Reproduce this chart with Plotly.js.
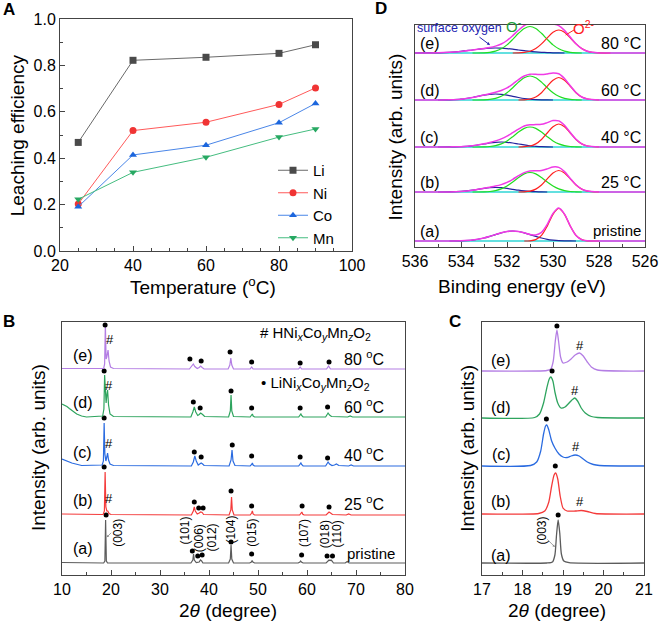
<!DOCTYPE html>
<html><head><meta charset="utf-8">
<script src="https://cdn.plot.ly/plotly-3.0.1.min.js"></script>
<style>html,body{margin:0;padding:0;background:#fff}#chart{width:661px;height:622px}</style>
</head><body><div id="chart"></div>
<script>
// ---------- Panel A: leaching efficiency ----------
const temperatures = [25, 40, 60, 80, 90];
const leachLi = [0.468, 0.822, 0.835, 0.852, 0.889];
const leachNi = [0.203, 0.519, 0.555, 0.632, 0.703];
const leachCo = [0.191, 0.414, 0.456, 0.553, 0.636];
const leachMn = [0.223, 0.339, 0.404, 0.491, 0.526];

// ---------- Panel B: XRD patterns (height above each pattern's baseline) ----------
const xrdLabels = ['(a)', '(b)', '(c)', '(d)', '(e)'];
const xrdTemps = ['pristine', '25 <sup>o</sup>C', '40 <sup>o</sup>C', '60 <sup>o</sup>C', '80 <sup>o</sup>C'];
const xrdOffsets = [12, 60, 109, 158, 206];
const xrdPristineX = [10, 18.5, 18.75, 18.9, 19.05, 19.3, 36.3, 36.7, 36.85, 37.0, 37.4, 38.0, 38.25, 38.5, 38.75, 44.0, 44.35, 44.5, 44.65, 45.0, 48.3, 48.65, 48.8, 48.95, 49.3, 58.2, 58.55, 58.7, 58.85, 59.2, 63.9, 64.3, 64.5, 64.7, 64.9, 65.1, 65.4, 67.8, 68.2, 68.6, 80];
const xrdPristineY = [0.5, 0, 2, 43, 2, 0, 0, 3, 9, 3, 0.5, 1, 3, 2, 0, 0, 4, 18, 4, 0, 0, 1, 2.5, 1, 0, 0, 1, 2, 1, 0, 0, 2, 3, 2.5, 3, 2, 0, 0, 1.5, 0, 0];
const xrd25X = [10, 18.4, 18.65, 18.8, 18.95, 19.15, 19.35, 19.6, 20.0, 36.4, 36.8, 37.0, 37.2, 37.6, 38.0, 38.3, 38.6, 38.9, 44.1, 44.45, 44.6, 44.75, 45.1, 48.4, 48.7, 48.85, 49.0, 49.3, 58.5, 58.8, 58.95, 59.1, 59.4, 63.9, 64.3, 64.5, 64.8, 65.2, 68.0, 68.5, 69.0, 80];
const xrd25Y = [1, 0.5, 4, 43, 8, 4, 4, 1.5, 0.5, 0, 4, 8, 4, 1, 2, 3, 2.5, 0.5, 0, 5, 18, 5, 0, 0, 2, 4, 1, 0, 0, 1.5, 3, 1, 0, 0, 2, 3, 2, 0.5, 0, 1, 0, 0];
const xrd40X = [10, 11, 12, 14, 18.2, 18.45, 18.6, 18.75, 18.95, 19.15, 19.3, 19.5, 19.8, 20.5, 36.4, 36.8, 37.1, 37.4, 37.8, 38.1, 38.4, 38.7, 39.0, 44.1, 44.5, 44.7, 44.9, 45.3, 48.4, 48.7, 48.85, 49.0, 49.3, 58.3, 58.6, 58.75, 58.9, 59.2, 63.8, 64.1, 64.3, 64.6, 65.1, 65.6, 66.0, 66.5, 68.5, 69.0, 69.5, 80];
const xrd40Y = [7, 5, 3, 0.5, 1, 5, 43, 12, 5, 9, 13, 6, 2, 0.5, 0, 4, 10, 5, 1, 2, 3, 2, 0.5, 0, 6, 16, 5, 0.5, 0, 1.5, 3, 1, 0, 0, 1.5, 3, 1.5, 0, 0, 2, 4, 2, 0.5, 1, 2, 0.5, 0, 1, 0, 0];
const xrd60X = [10, 10.5, 11, 11.5, 12, 12.5, 13, 14, 15, 18.3, 18.55, 18.7, 18.85, 19.0, 19.15, 19.3, 19.5, 19.8, 20.5, 36.3, 36.7, 37.0, 37.3, 37.7, 38.0, 38.3, 38.7, 39.1, 44.0, 44.35, 44.5, 44.65, 45.0, 48.4, 48.7, 48.85, 49.0, 49.3, 58.3, 58.6, 58.75, 58.9, 59.2, 63.8, 64.1, 64.3, 64.6, 65.0, 68.3, 68.8, 69.3, 80];
const xrd60Y = [13, 12, 10.5, 8.5, 6.5, 4.5, 3, 1, 0, 1, 8, 42, 15, 14, 22, 27, 12, 3, 0.5, 0, 5, 10, 5, 1.5, 2.5, 4, 2.5, 0.5, 0, 6, 22, 6, 0.5, 0, 2, 3, 1, 0, 0, 2, 3, 1.5, 0, 0, 2, 4, 2, 0.5, 0, 1, 0, 0];
const xrd80X = [10, 18.5, 18.7, 18.85, 19.0, 19.15, 19.4, 19.6, 19.9, 20.5, 36.0, 36.5, 36.8, 37.1, 37.6, 38.0, 38.3, 38.6, 39.0, 43.9, 44.25, 44.45, 44.65, 45.0, 48.4, 48.7, 49.0, 58.3, 58.6, 58.9, 64.0, 64.4, 64.8, 80];
const xrd80Y = [0.5, 0.5, 5, 45, 10, 12, 19, 8, 2, 0.5, 0, 2.5, 5, 2.5, 0.5, 1.5, 3, 1.5, 0, 0, 4, 11, 4, 0, 0, 2, 0, 0, 2, 0, 0, 3, 0, 0];
// peak markers (•) and # marks, absolute panel-B units
const dotsPristineX = [19.0, 36.6, 37.7, 38.6, 44.5, 48.7, 58.9, 64.1, 65.2];
const dotsPristineY = [60, 24, 19, 20, 33, 21, 20, 19, 19];
const dots25X = [18.6, 37.0, 37.9, 38.8, 44.5, 48.7, 59.0, 64.5];
const dots25Y = [108, 73, 67, 67, 84, 69, 69, 68];
const dots40X = [18.6, 37.0, 38.4, 44.75, 48.7, 58.6, 64.2];
const dots40Y = [157, 123, 118, 130, 119, 118, 117];
const dots60X = [18.6, 36.8, 38.2, 44.5, 48.7, 58.6, 64.2];
const dots60Y = [204, 173, 167, 184, 167, 167, 168];
const dots80X = [18.8, 36.1, 38.4, 44.3, 48.7, 58.6, 64.5];
const dots80Y = [250, 216, 214, 223, 213, 212, 213];
const hashBX = [19.65, 19.65, 19.65, 19.8];
const hashBY = [77, 132, 190, 236];
const hklLabels = ['(003)', '(101)', '(006)', '(012)', '(104)', '(015)', '(107)', '(018)', '(110)'];
const hklX = [21.4, 35.2, 38.0, 40.7, 44.4, 48.7, 59.4, 63.7, 66.2];
const hklY = [42, 45, 37, 38, 45, 42, 42, 41, 41];

// ---------- Panel C: (003) region ----------
const zoomOffsets = [12, 61, 109, 157, 204];
const zoomPristineX = [17, 18.6, 18.74, 18.8, 18.84, 18.88, 18.92, 18.96, 19.02, 19.15, 21];
const zoomPristineY = [0, 0, 1, 8, 28, 43, 30, 9, 2, 0.3, 0];
const zoom25X = [17, 18.4, 18.55, 18.65, 18.72, 18.78, 18.82, 18.87, 18.93, 19.0, 19.1, 19.3, 19.45, 19.6, 19.8, 21];
const zoom25Y = [0, 0.5, 3, 12, 28, 39, 41, 35, 18, 6, 3, 3, 3.5, 2.5, 0.5, 0];
const zoom40X = [17, 18.2, 18.35, 18.45, 18.52, 18.57, 18.6, 18.65, 18.72, 18.8, 18.9, 19.0, 19.1, 19.2, 19.3, 19.4, 19.5, 19.6, 19.75, 19.9, 21];
const zoom40Y = [0, 0.5, 4, 15, 32, 40, 41, 36, 25, 18, 12, 9, 8.5, 10, 11, 10, 7, 4, 1.5, 0.5, 0];
const zoom60X = [17, 18.3, 18.42, 18.52, 18.6, 18.66, 18.7, 18.75, 18.8, 18.87, 18.95, 19.05, 19.15, 19.22, 19.29, 19.36, 19.45, 19.55, 19.7, 19.85, 21];
const zoom60Y = [0, 0.5, 4, 15, 30, 39, 41, 37, 26, 15, 10, 11, 15, 18, 20, 17, 10, 5, 1.5, 0.5, 0];
const zoom80X = [17, 18.6, 18.7, 18.76, 18.81, 18.85, 18.89, 18.94, 19.0, 19.1, 19.2, 19.3, 19.41, 19.5, 19.6, 19.7, 19.85, 21];
const zoom80Y = [0, 0.5, 2, 10, 30, 41, 30, 14, 8, 9, 12, 16, 18, 15, 9, 4, 1, 0];
const zoomDotX = [18.88, 18.81, 18.59, 18.73, 18.85];
const zoomDotY = [60, 109, 156, 204, 249];
const zoomHashX = [19.43, 19.31, 19.29, 19.41];
const zoomHashY = [74, 129, 185, 230];

// ---------- Panel D: O 1s XPS (component heights above baseline) ----------
const xpsE = [536, 535.5, 535, 534.5, 534, 533.5, 533, 532.75, 532.5, 532.25, 532, 531.75, 531.5, 531.25, 531, 530.75, 530.5, 530.25, 530, 529.75, 529.5, 529.25, 529, 528.75, 528.5, 528, 527.5, 527, 526.5, 526];
const xpsBase = [6, 55, 100, 147, 194];
const xpsTemps = ['pristine', '25 °C', '40 °C', '60 °C', '80 °C'];
const surfPristine = [0, 0, 0, 0, 0.2, 0.9, 3.0, 4.6, 6.4, 8.2, 9.5, 10, 9.5, 8.2, 6.4, 4.6, 3.0, 1.7, 0.9, 0.4, 0.2, 0.1, 0, 0, 0, 0, 0, 0, 0, 0];
const o2Pristine = [0, 0, 0, 0, 0, 0, 0, 0, 0, 0, 0, 0, 0, 0, 0.2, 1.4, 5.6, 14.9, 26.7, 32.5, 26.7, 14.9, 5.6, 1.4, 0.2, 0, 0, 0, 0, 0];
const surf25 = [0, 0, 0, 0.1, 0.6, 1.8, 3.6, 4.3, 4.5, 4.3, 3.6, 2.7, 1.8, 1.1, 0.6, 0.3, 0.1, 0, 0, 0, 0, 0, 0, 0, 0, 0, 0, 0, 0, 0];
const oMinus25 = [0, 0, 0, 0, 0, 0, 0.2, 0.5, 1.4, 3.1, 6.0, 10.0, 14.5, 18.1, 19.5, 18.1, 14.5, 10.0, 6.0, 3.1, 1.4, 0.5, 0.2, 0, 0, 0, 0, 0, 0, 0];
const o225 = [0, 0, 0, 0, 0, 0, 0, 0, 0, 0, 0, 0, 0, 0.2, 0.9, 2.9, 7.0, 13.1, 19.0, 21.5, 19.0, 13.1, 7.0, 2.9, 0.9, 0, 0, 0, 0, 0];
const surf40 = [0, 0, 0, 0.1, 0.3, 1.2, 3.0, 4.0, 4.7, 5.0, 4.7, 4.0, 3.0, 2.1, 1.2, 0.7, 0.3, 0.1, 0, 0, 0, 0, 0, 0, 0, 0, 0, 0, 0, 0];
const oMinus40 = [0, 0, 0, 0, 0, 0, 0.2, 0.5, 1.4, 3.1, 6.1, 10.3, 14.9, 18.6, 20, 18.6, 14.9, 10.3, 6.1, 3.1, 1.4, 0.5, 0.2, 0, 0, 0, 0, 0, 0, 0];
const o240 = [0, 0, 0, 0, 0, 0, 0, 0, 0, 0, 0, 0, 0, 0.3, 1.0, 3.1, 7.5, 14.0, 20.3, 23, 20.3, 14.0, 7.5, 3.1, 1.0, 0, 0, 0, 0, 0];
const surf60 = [0, 0, 0, 0.2, 0.8, 2.5, 4.8, 5.7, 6, 5.7, 4.8, 3.6, 2.5, 1.5, 0.8, 0.4, 0.2, 0.1, 0, 0, 0, 0, 0, 0, 0, 0, 0, 0, 0, 0];
const oMinus60 = [0, 0, 0, 0, 0, 0, 0.2, 0.6, 1.7, 3.8, 7.3, 12.3, 17.9, 22.3, 24, 22.3, 17.9, 12.3, 7.3, 3.8, 1.7, 0.6, 0.2, 0, 0, 0, 0, 0, 0, 0];
const o260 = [0, 0, 0, 0, 0, 0, 0, 0, 0, 0, 0, 0, 0, 0.2, 1.0, 3.0, 7.3, 13.7, 19.8, 22.5, 19.8, 13.7, 7.3, 3.0, 1.0, 0, 0, 0, 0, 0];
const surf80 = [0, 0.1, 0.2, 0.7, 1.6, 3.0, 4.4, 4.8, 5.0, 4.8, 4.4, 3.8, 3.0, 2.3, 1.6, 1.1, 0.7, 0.4, 0.2, 0.1, 0, 0, 0, 0, 0, 0, 0, 0, 0, 0];
const oMinus80 = [0, 0, 0, 0, 0, 0, 0.2, 0.7, 1.9, 4.2, 8.1, 13.6, 19.7, 24.6, 26.5, 24.6, 19.7, 13.6, 8.1, 4.2, 1.9, 0.7, 0.2, 0, 0, 0, 0, 0, 0, 0];
const o280 = [0, 0, 0, 0, 0, 0, 0, 0, 0, 0, 0, 0, 0.1, 0.6, 1.7, 4.4, 9.1, 15.2, 20.7, 23, 20.7, 15.2, 9.1, 4.4, 1.7, 0.1, 0, 0, 0, 0];

// ---------- build ----------
const W = 661, H = 622;
const PX = p => p / W, PY = p => 1 - p / H;
const FONT = 'Arial, "Liberation Sans", sans-serif';
const traces = [];
const ann = [];

// Panel A
const aSeries = [
  {name: 'Li', y: leachLi, line: '#6a6a6a', mk: '#4a4a4a', sym: 'square'},
  {name: 'Ni', y: leachNi, line: '#ff5a5a', mk: '#f03434', sym: 'circle'},
  {name: 'Co', y: leachCo, line: '#4a86e8', mk: '#1c66dd', sym: 'triangle-up'},
  {name: 'Mn', y: leachMn, line: '#45bd80', mk: '#27a862', sym: 'triangle-down'}
];
aSeries.forEach(s => traces.push({
  x: temperatures, y: s.y, name: s.name, xaxis: 'x', yaxis: 'y', mode: 'lines+markers',
  line: {color: s.line, width: 1}, marker: {symbol: s.sym, size: 7, color: s.mk}, showlegend: true
}));

// Panel B
const xrdColors = ['#5c5c5c', '#f43a3a', '#2a6be0', '#2ea45e', '#b47ee4'];
const xrdXs = [xrdPristineX, xrd25X, xrd40X, xrd60X, xrd80X];
const xrdYs = [xrdPristineY, xrd25Y, xrd40Y, xrd60Y, xrd80Y];
const dotXs = [dotsPristineX, dots25X, dots40X, dots60X, dots80X];
const dotYs = [dotsPristineY, dots25Y, dots40Y, dots60Y, dots80Y];
for (let k = 0; k < 5; k++) {
  traces.push({x: xrdXs[k], y: xrdYs[k].map(v => v + xrdOffsets[k]), xaxis: 'x3', yaxis: 'y3',
    mode: 'lines', line: {color: xrdColors[k], width: 1.2}, showlegend: false, hoverinfo: 'skip'});
  traces.push({x: dotXs[k], y: dotYs[k], xaxis: 'x3', yaxis: 'y3', mode: 'markers',
    marker: {color: '#000', size: 5}, showlegend: false, hoverinfo: 'skip'});
}
hashBX.forEach((x, i) => ann.push({xref: 'x3', yref: 'y3', x: x, y: hashBY[i], text: '#', showarrow: false, font: {size: 13, color: '#000'}}));
hklLabels.forEach((t, i) => ann.push({xref: 'x3', yref: 'y3', x: hklX[i], y: hklY[i], text: t, textangle: -90, showarrow: false, font: {size: 12, color: '#000'}}));
const labYB = [27, 75, 123, 172.7, 220];
const tempYB = [22, 72, 121, 169, 217];
for (let k = 0; k < 5; k++) {
  ann.push({xref: 'x3', yref: 'y3', x: 14.2, y: labYB[k], text: xrdLabels[k], showarrow: false, font: {size: 16, color: '#000'}});
  ann.push({xref: 'x3', yref: 'y3', x: k === 0 ? 78.4 : 76.2, y: tempYB[k], xanchor: 'right', text: xrdTemps[k], showarrow: false, font: {size: k === 0 ? 15 : 16, color: '#000'}});
}
ann.push({xref: 'x3', yref: 'y3', x: 50.0, y: 242, xanchor: 'left', showarrow: false, font: {size: 15, color: '#000'},
  text: '# HNi<sub><i>x</i></sub>Co<sub><i>y</i></sub>Mn<sub><i>z</i></sub>O<sub>2</sub>'});
ann.push({xref: 'x3', yref: 'y3', x: 50.2, y: 192, xanchor: 'left', showarrow: false, font: {size: 15, color: '#000'},
  text: '• LiNi<sub><i>x</i></sub>Co<sub><i>y</i></sub>Mn<sub><i>z</i></sub>O<sub>2</sub>'});
ann.push({xref: 'x3', yref: 'y3', x: 19.12, y: 37.7, ax: 6, ay: -6, text: '', showarrow: true, arrowhead: 2, arrowsize: 0.6, arrowwidth: 0.8, arrowcolor: '#888'});

// Panel C
const zXs = [zoomPristineX, zoom25X, zoom40X, zoom60X, zoom80X];
const zYs = [zoomPristineY, zoom25Y, zoom40Y, zoom60Y, zoom80Y];
for (let k = 0; k < 5; k++) {
  traces.push({x: zXs[k], y: zYs[k].map(v => v + zoomOffsets[k]), xaxis: 'x4', yaxis: 'y4',
    mode: 'lines', line: {color: xrdColors[k], width: 1.3, shape: 'spline', smoothing: 0.6}, showlegend: false, hoverinfo: 'skip'});
}
traces.push({x: zoomDotX, y: zoomDotY, xaxis: 'x4', yaxis: 'y4', mode: 'markers', marker: {color: '#000', size: 5}, showlegend: false, hoverinfo: 'skip'});
zoomHashX.forEach((x, i) => ann.push({xref: 'x4', yref: 'y4', x: x, y: zoomHashY[i], text: '#', showarrow: false, font: {size: 13, color: '#000'}}));
const labYC = [20, 74, 121, 168, 215];
for (let k = 0; k < 5; k++) ann.push({xref: 'x4', yref: 'y4', x: 17.48, y: labYC[k], text: xrdLabels[k], showarrow: false, font: {size: 16, color: '#000'}});
ann.push({xref: 'x4', yref: 'y4', x: 18.47, y: 44, text: '(003)', textangle: -90, showarrow: false, font: {size: 12, color: '#000'}});
ann.push({xref: 'x4', yref: 'y4', x: 18.8, y: 28, ax: -9, ay: -9, text: '', showarrow: true, arrowhead: 2, arrowsize: 0.6, arrowwidth: 0.8, arrowcolor: '#888'});

// Panel D
const surfs = [surfPristine, surf25, surf40, surf60, surf80];
const oMinus = [null, oMinus25, oMinus40, oMinus60, oMinus80];
const o2s = [o2Pristine, o225, o240, o260, o280];
function compTrace(arr, base, color) {
  let f = arr.findIndex(v => v > 0), l = arr.length - 1;
  while (l > 0 && arr[l] <= 0) l--;
  f = Math.max(0, f - 1); l = Math.min(arr.length - 1, l + 1);
  return {x: xpsE.slice(f, l + 1), y: arr.slice(f, l + 1).map(v => v + base), xaxis: 'x2', yaxis: 'y2', mode: 'lines',
    line: {color: color, width: 1.2, shape: 'spline', smoothing: 0.8}, showlegend: false, hoverinfo: 'skip'};
}
for (let k = 0; k < 5; k++) {
  const b = xpsBase[k];
  traces.push({x: [536, 526], y: [b, b], xaxis: 'x2', yaxis: 'y2', mode: 'lines', line: {color: '#2fd6d6', width: 1.5}, showlegend: false, hoverinfo: 'skip'});
  traces.push(compTrace(surfs[k], b, '#23239e'));
  if (oMinus[k]) traces.push(compTrace(oMinus[k], b, '#22dd22'));
  traces.push(compTrace(o2s[k], b, '#ff2020'));
  const env = xpsE.map((e, i) => b + surfs[k][i] + (oMinus[k] ? oMinus[k][i] : 0) + o2s[k][i]);
  traces.push({x: xpsE, y: env, xaxis: 'x2', yaxis: 'y2', mode: 'lines', line: {color: '#f03ae6', width: 1.5, shape: 'spline', smoothing: 0.8}, showlegend: false, hoverinfo: 'skip'});
  ann.push({xref: 'x2', yref: 'y2', x: 535.35, y: b + 10, text: xrdLabels[k], showarrow: false, font: {size: 16, color: '#000'}});
  ann.push({xref: 'x2', yref: 'y2', x: 526.1, y: b + (k === 0 ? 11 : 10), xanchor: 'right', text: xpsTemps[k], showarrow: false, font: {size: k === 0 ? 15 : 16, color: '#000'}});
}
ann.push({xref: 'x2', yref: 'y2', x: 536, y: 219.5, xanchor: 'left', text: 'surface oxygen', showarrow: false, font: {size: 12.5, color: '#2323b0'}});
ann.push({xref: 'x2', yref: 'y2', x: 531.7, y: 222, text: 'O<sup>-</sup>', showarrow: false, font: {size: 15, color: '#1f9e3a'}});
ann.push({xref: 'x2', yref: 'y2', x: 528.65, y: 220, text: 'O<sup>2-</sup>', showarrow: false, font: {size: 15, color: '#ff2020'}});
ann.push({xref: 'x2', yref: 'y2', x: 532.74, y: 202, ax: -12, ay: -9, text: '', showarrow: true, arrowhead: 2, arrowsize: 0.6, arrowwidth: 1, arrowcolor: '#2323b0'});
ann.push({xref: 'x2', yref: 'y2', x: 529.45, y: 212, ax: 10, ay: -6, text: '', showarrow: true, arrowhead: 0, arrowwidth: 1, arrowcolor: '#ff2020'});

// axis titles and panel letters (paper positions, explicit centre anchors)
const T = {size: 19, color: '#000'};
function paperText(px, py, text, font, angle) {
  ann.push({xref: 'paper', yref: 'paper', x: PX(px), y: PY(py), xanchor: 'center', yanchor: 'middle',
    text: text, textangle: angle || 0, showarrow: false, font: font});
}
paperText(18.3, 135, 'Leaching efficiency', T, -90);
paperText(203, 286, 'Temperature (<sup>o</sup>C)', T);
paperText(395, 136.5, 'Intensity (arb. units)', T, -90);
paperText(521.7, 286, 'Binding energy (eV)', T);
paperText(38, 448, 'Intensity (arb. units)', T, -90);
paperText(228.3, 610, '2<i>θ</i> (degree)', T);
paperText(466.7, 448, 'Intensity (arb. units)', T, -90);
paperText(556.7, 610, '2<i>θ</i> (degree)', T);
const L = {size: 17, color: '#000', family: FONT};
[['A', 9, 10], ['D', 380.5, 9], ['B', 8.5, 321.5], ['C', 455, 321.5]].forEach(p => paperText(p[1], p[2], '<b>' + p[0] + '</b>', L));

function ax(extra) {
  return Object.assign({
    showline: true, mirror: true, linecolor: '#444', linewidth: 1, showgrid: false, zeroline: false,
    ticks: 'inside', ticklen: 5, tickwidth: 1, tickcolor: '#444', automargin: false, fixedrange: true,
    tickfont: {size: 16, color: '#000', family: FONT}
  }, extra);
}
const noTicks = {ticks: '', showticklabels: false};
const layout = {
  width: W, height: H, margin: {l: 0, r: 0, t: 0, b: 0}, paper_bgcolor: '#fff', plot_bgcolor: '#fff',
  font: {family: FONT, color: '#000'},
  showlegend: true,
  legend: {x: PX(273), y: PY(154), xanchor: 'left', yanchor: 'top', bgcolor: 'rgba(0,0,0,0)', font: {size: 15, color: '#000'}, tracegroupgap: 0, itemwidth: 30},
  xaxis: ax({domain: [PX(60), PX(352)], range: [20, 100], dtick: 20, anchor: 'y', minor: {ticks: 'inside', ticklen: 3, dtick: 5, tickcolor: '#444'}}),
  yaxis: ax({domain: [PY(251), PY(19)], range: [0, 1], dtick: 0.2, tickformat: '.1f', anchor: 'x', minor: {ticks: 'inside', ticklen: 3, dtick: 0.1, tickcolor: '#444'}}),
  xaxis2: ax({domain: [PX(415), PX(645)], range: [536, 526], dtick: 2, anchor: 'y2', minor: {ticks: 'inside', ticklen: 3, dtick: 1, tickcolor: '#444'}}),
  yaxis2: ax(Object.assign({domain: [PY(247), PY(25)], range: [0, 222], anchor: 'x2'}, noTicks)),
  xaxis3: ax({domain: [PX(62), PX(405)], range: [10, 80], dtick: 10, anchor: 'y3', minor: {ticks: 'inside', ticklen: 3, dtick: 5, tickcolor: '#444'}}),
  yaxis3: ax(Object.assign({domain: [PY(575), PY(322)], range: [0, 253], anchor: 'x3'}, noTicks)),
  xaxis4: ax({domain: [PX(482), PX(644)], range: [17, 21], dtick: 1, anchor: 'y4', minor: {ticks: 'inside', ticklen: 3, dtick: 0.5, tickcolor: '#444'}}),
  yaxis4: ax(Object.assign({domain: [PY(575), PY(322)], range: [0, 253], anchor: 'x4'}, noTicks)),
  annotations: ann
};
Plotly.newPlot('chart', traces, layout, {staticPlot: true, displayModeBar: false});
</script>
</body></html>
